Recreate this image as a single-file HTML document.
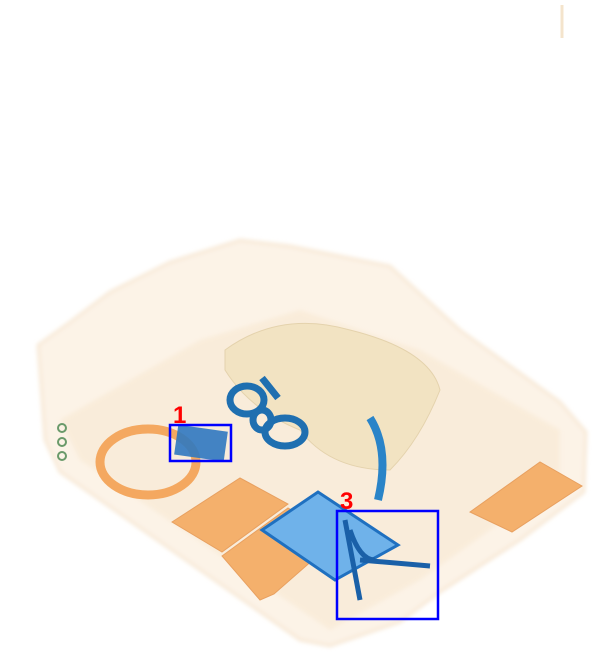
<!DOCTYPE html>
<html><head><meta charset="utf-8">
<style>
html,body{margin:0;padding:0;background:#fff;width:612px;height:654px;overflow:hidden}
svg{display:block}
text{font-family:"Liberation Sans",sans-serif}
</style></head>
<body>
<svg id="s" width="612" height="654" viewBox="0 0 612 654">
<defs>
<filter id="blur"><feGaussianBlur stdDeviation="2"/></filter>
</defs>
<line x1="562" y1="5" x2="562" y2="38" stroke="#f4e4cc" stroke-width="3"/>
<polygon filter="url(#blur)" fill="#fcf3e7" stroke="#f4e0c6" stroke-width="2"
 points="38,345 70,322 110,292 170,262 240,240 290,246 390,266 460,330 560,402 586,432 584,492 520,540 440,592 400,622 330,646 300,640 60,472 45,440"/>
<polygon filter="url(#blur)" fill="#f8e8d2" opacity="0.6"
 points="60,420 200,340 300,310 420,350 560,430 560,480 420,580 330,630 80,460"/>
<path d="M225,350 Q280,310 350,330 Q430,350 440,390 Q420,440 390,470 Q330,470 300,430 Q250,410 225,370 Z" fill="#f0e0b8" opacity="0.7" stroke="#dcc89a"/>
<ellipse cx="148" cy="462" rx="48" ry="33" fill="none" stroke="#f4a860" stroke-width="9"/>
<polygon points="172,522 240,478 288,504 222,552" fill="#f4b06c" stroke="#e8a060"/>
<polygon points="222,556 288,508 338,538 274,594 260,600" fill="#f4b06c" stroke="#e8a060"/>
<polygon points="470,512 540,462 582,486 512,532" fill="#f4b06c" stroke="#e8a060"/>
<g fill="none" stroke="#1f6fb0" stroke-width="7">
<ellipse cx="247" cy="400" rx="17" ry="14"/><ellipse cx="285" cy="432" rx="20" ry="14"/>
<ellipse cx="262" cy="420" rx="9" ry="10"/><path d="M262,378 L278,398"/>
</g>
<path d="M370,418 Q390,450 378,500" fill="none" stroke="#2a84c8" stroke-width="8"/>
<polygon points="262,530 318,492 398,545 335,580" fill="#6fb2ea" stroke="#1f70c0" stroke-width="3"/>
<path d="M345,520 L360,600 M350,530 Q360,560 375,560 M360,560 L430,566" stroke="#1a60a8" stroke-width="5" fill="none"/>
<rect x="176" y="428" width="50" height="30" fill="#2f78c0" opacity="0.9" transform="rotate(8 200 443)"/>
<circle cx="62" cy="428" r="4" fill="none" stroke="#6a9a6a" stroke-width="2"/>
<circle cx="62" cy="442" r="4" fill="none" stroke="#6a9a6a" stroke-width="2"/>
<circle cx="62" cy="456" r="4" fill="none" stroke="#6a9a6a" stroke-width="2"/>
<g id="boxes"></g>
</svg>
<script>
const boxLabels = ["1", "3"];
const boxCoords = [[170, 425, 231, 461], [337, 511, 438, 619]];
const g = document.getElementById('boxes');
const ns = 'http://www.w3.org/2000/svg';
boxCoords.forEach((b, i) => {
  const r = document.createElementNS(ns, 'rect');
  r.setAttribute('x', b[0]); r.setAttribute('y', b[1]);
  r.setAttribute('width', b[2] - b[0]); r.setAttribute('height', b[3] - b[1]);
  r.setAttribute('fill', 'none'); r.setAttribute('stroke', '#0000ff'); r.setAttribute('stroke-width', '2.5');
  
  
  g.appendChild(r);
  const t = document.createElementNS(ns, 'text');
  t.setAttribute('x', b[0] + 3); t.setAttribute('y', b[1] - 2);
  t.setAttribute('fill', '#ff0000'); t.setAttribute('font-size', '24'); t.setAttribute('font-weight', 'bold');
  t.textContent = boxLabels[i];
  
  
  g.appendChild(t);
});
</script>
</body></html>
